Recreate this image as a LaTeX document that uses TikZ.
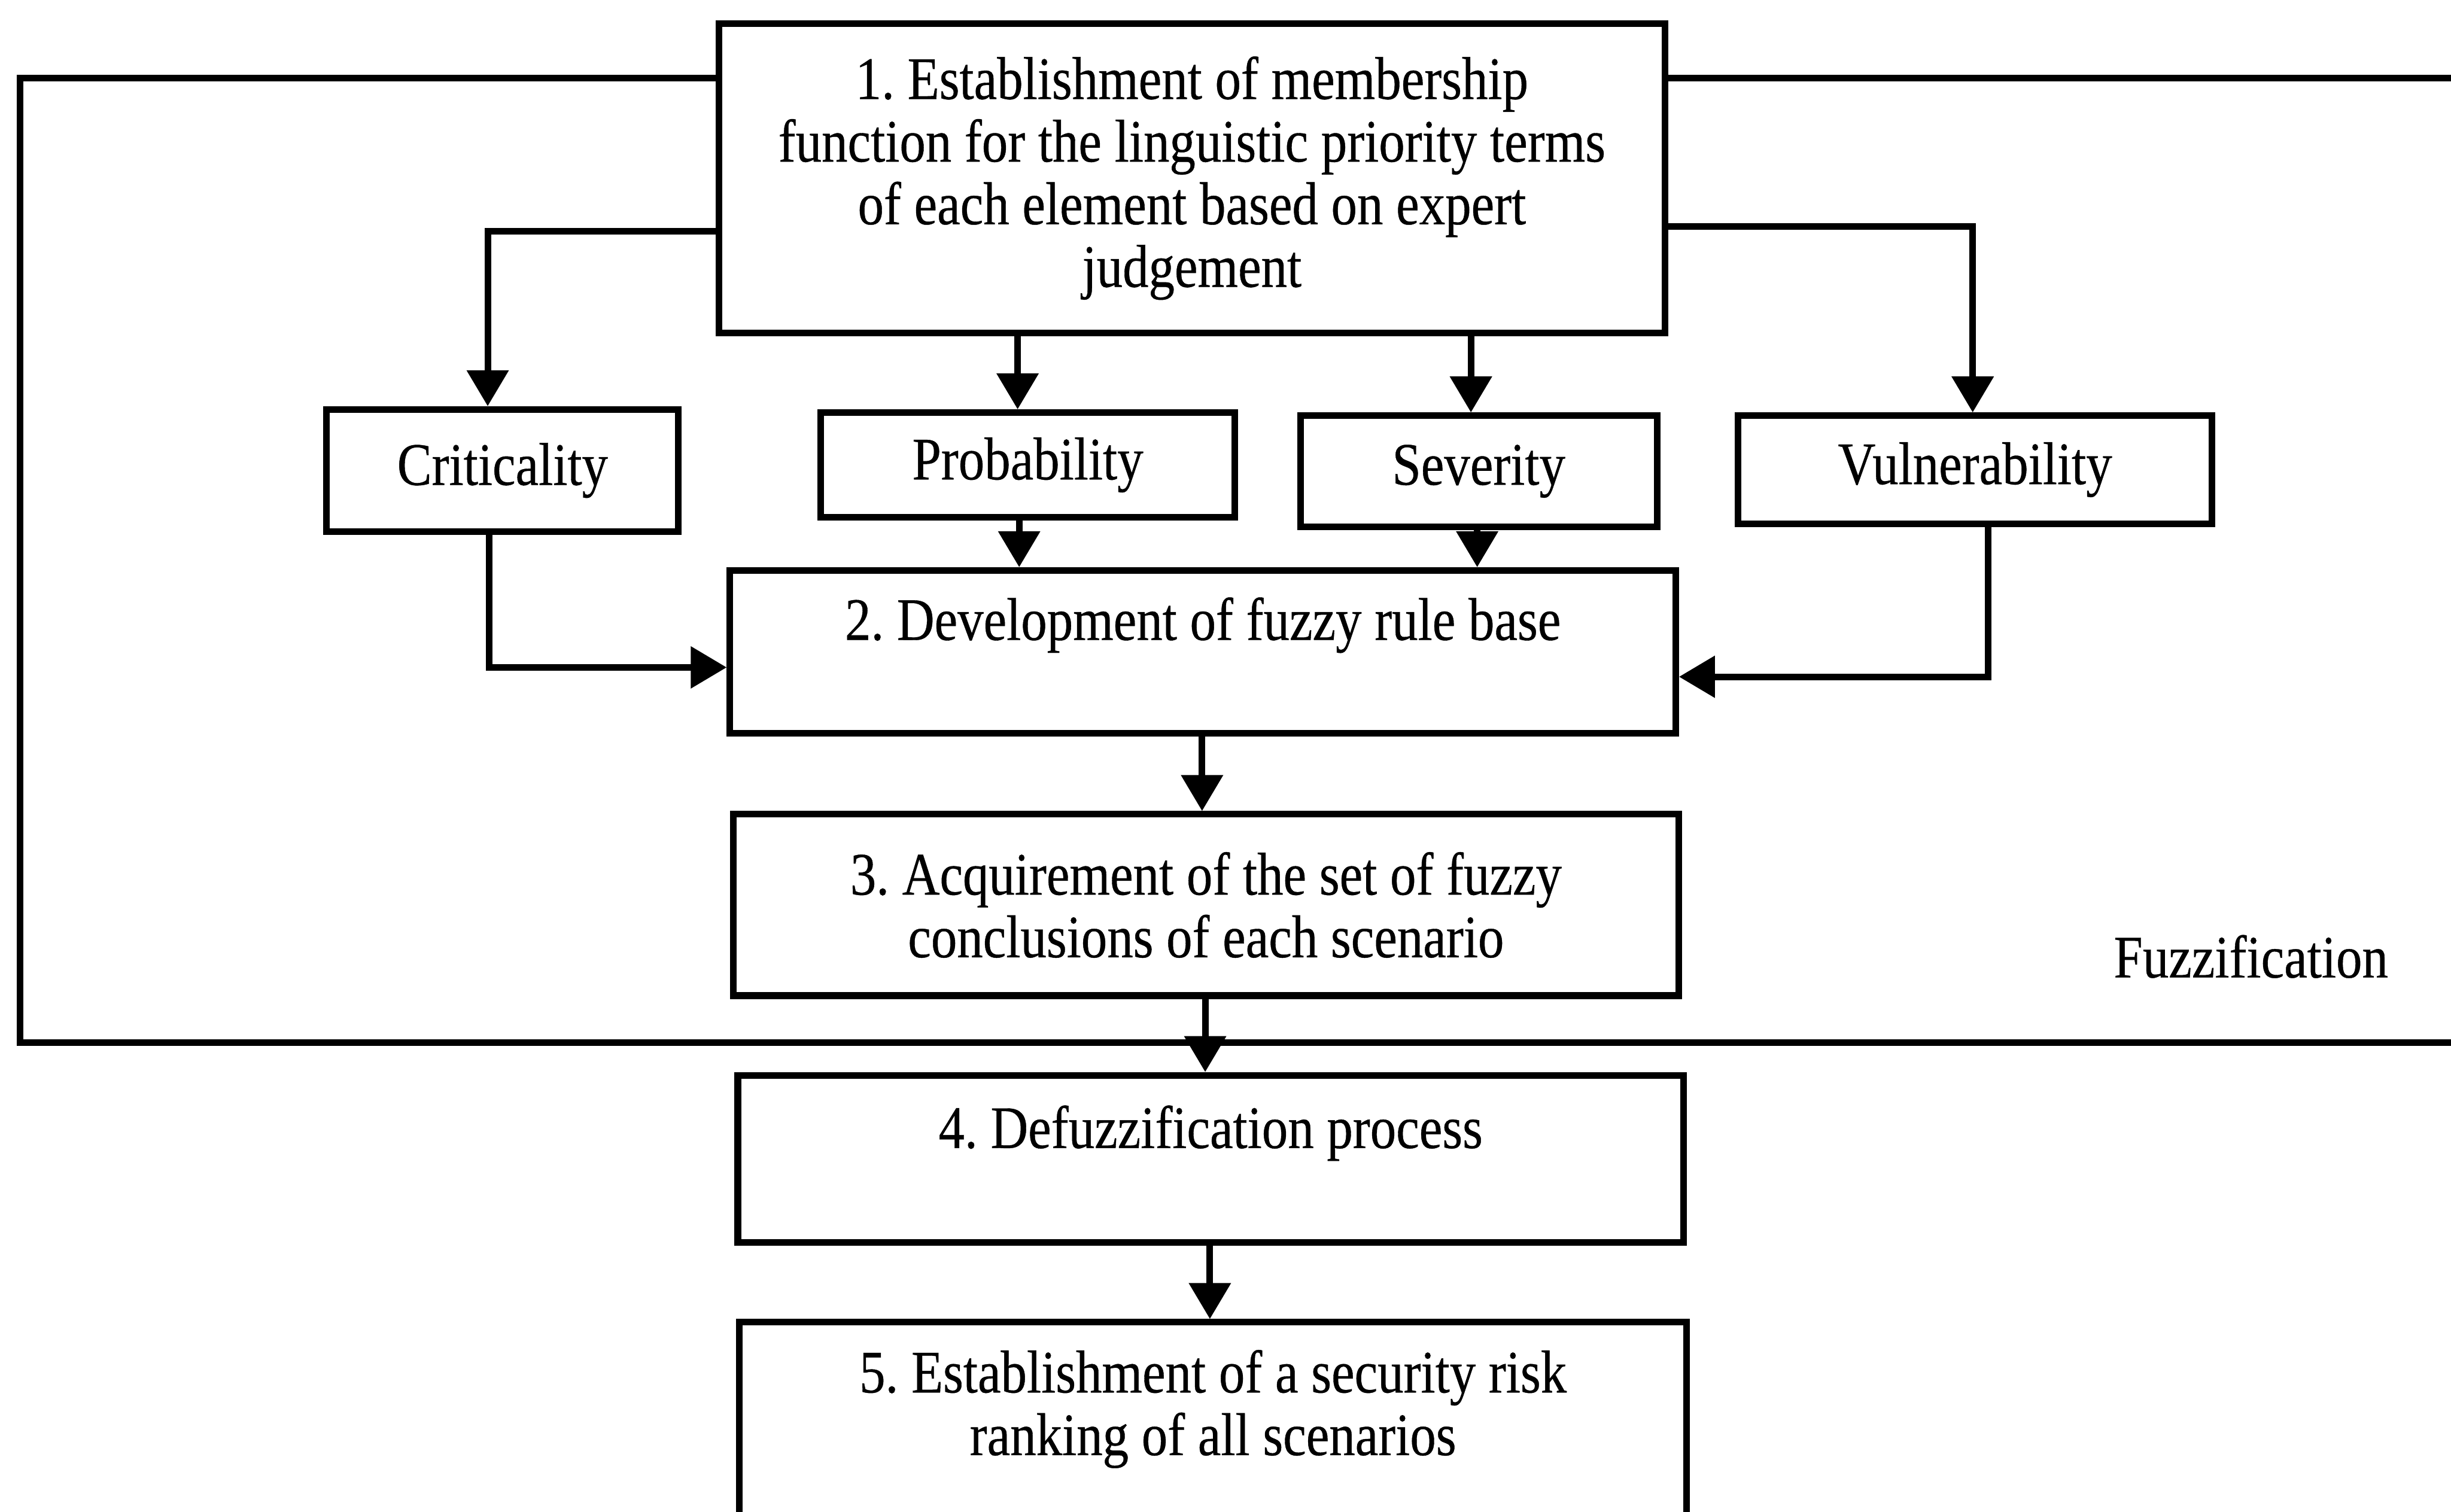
\documentclass[tikz,border=0pt]{standalone}
\usepackage{fontspec}
\setmainfont{Liberation Serif}[FakeStretch=0.86,FakeBold=0.4]
\usetikzlibrary{arrows.meta}
\frenchspacing
\begin{document}
\begin{tikzpicture}[
  stage/.style={draw, line width=1.2pt, inner sep=0pt, align=center,
    font=\fontsize{11}{11.4}\selectfont},
  lbl/.style={inner sep=0pt, align=center, font=\fontsize{11}{11.4}\selectfont},
  link/.style={line width=1.2pt, -{Triangle[length=0.23cm,width=0.26cm]}},
  frame/.style={line width=1.2pt}
]
\useasboundingbox (0,0) rectangle (15.68,9.67);
\clip (0,0) rectangle (15.68,9.67);

% stage boxes
\node[stage, minimum width=6.05cm, minimum height=1.98cm] (b1) at (7.625,8.53)
  {1. Establishment of membership\\function for the linguistic priority terms\\of each element based on expert\\judgement};
\node[stage, minimum width=2.25cm, minimum height=0.78cm] (crit) at (3.215,6.66) {Criticality};
\node[stage, minimum width=2.65cm, minimum height=0.67cm] (prob) at (6.575,6.695) {Probability};
\node[stage, minimum width=2.28cm, minimum height=0.71cm] (sev) at (9.46,6.655) {Severity};
\node[stage, minimum width=3.03cm, minimum height=0.69cm] (vul) at (12.635,6.665) {Vulnerability};
\node[stage, minimum width=6.05cm, minimum height=1.04cm] (b2) at (7.695,5.50) {};
\node[lbl] (t2) at (7.695,5.67) {2. Development of fuzzy rule base};
\node[stage, minimum width=6.05cm, minimum height=1.16cm] (b3) at (7.715,3.88)
  {3. Acquirement of the set of fuzzy\\conclusions of each scenario};
\node[stage, minimum width=6.05cm, minimum height=1.07cm] (b4) at (7.745,2.255) {};
\node[lbl] (t4) at (7.745,2.42) {4. Defuzzification process};
\node[stage, minimum width=6.06cm, minimum height=2.0cm] (b5) at (7.76,0.21) {};
\node[lbl] (t5) at (7.76,0.655) {5. Establishment of a security risk\\ranking of all scenarios};
\node[lbl] (fz) at (14.40,3.55) {Fuzzification};

% fuzzification frame
\coordinate (ftop) at (0,9.17);
\coordinate (fnw) at (0.13,9.17);
\coordinate (fsw) at (0.13,3.00);
\coordinate (fse) at (15.9,3.00);
\coordinate (fne) at (15.9,9.17);
\draw[frame] (b1.west |- ftop) -- (fnw) -- (fsw) -- (fse);
\draw[frame] (b1.east |- ftop) -- (fne);

% connectors from stage 1
\coordinate (kc) at (3.12,8.19);
\coordinate (kv) at (12.62,8.22);
\coordinate (kp) at (6.51,0);
\coordinate (ks) at (9.41,0);
\draw[link] (b1.west |- kc) -| (crit.north -| kc);
\draw[link] (b1.south -| kp) -- (prob.north -| kp);
\draw[link] (b1.south -| ks) -- (sev.north -| ks);
\draw[link] (b1.east |- kv) -| (vul.north -| kv);

% connectors into stage 2
\coordinate (kc2) at (3.13,5.40);
\coordinate (kp2) at (6.52,0);
\coordinate (ks2) at (9.45,0);
\coordinate (kv2) at (12.72,5.34);
\draw[link] (crit.south -| kc2) |- (b2.west |- kc2);
\draw[link] (prob.south -| kp2) -- (b2.north -| kp2);
\draw[link] (sev.south -| ks2) -- (b2.north -| ks2);
\draw[link] (vul.south -| kv2) |- (b2.east |- kv2);

% main chain
\coordinate (k23) at (7.69,0);
\coordinate (k34) at (7.71,0);
\coordinate (k45) at (7.74,0);
\draw[link] (b2.south -| k23) -- (b3.north -| k23);
\draw[link] (b3.south -| k34) -- (b4.north -| k34);
\draw[link] (b4.south -| k45) -- (b5.north -| k45);
\end{tikzpicture}
\end{document}
